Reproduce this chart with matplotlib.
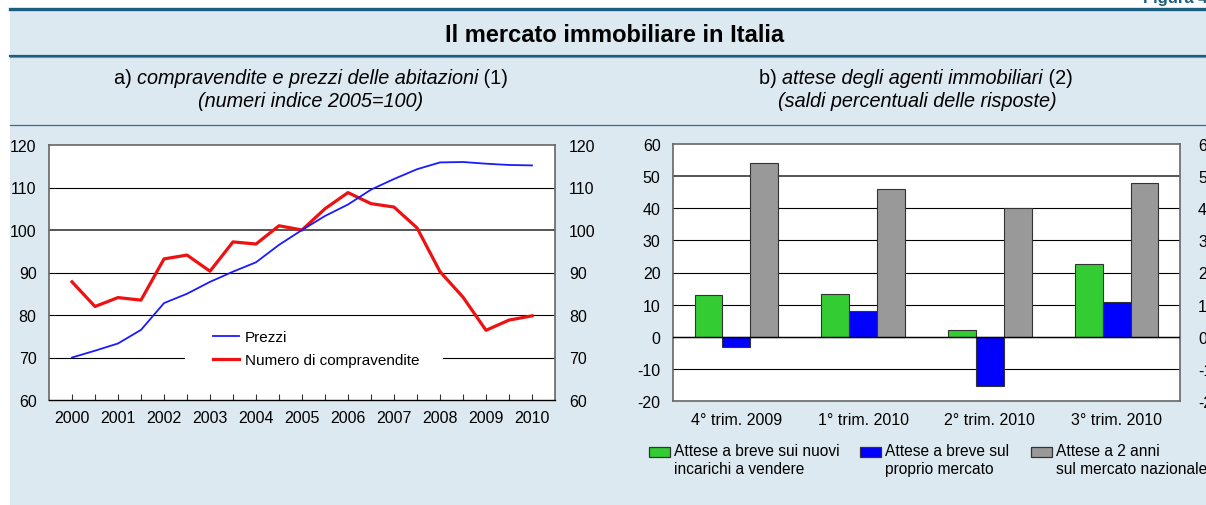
import matplotlib
matplotlib.use("Agg")
import matplotlib.pyplot as plt
from matplotlib.patches import Rectangle
from matplotlib.lines import Line2D
import numpy as np

plt.rcParams['font.family'] = ['Liberation Sans', 'DejaVu Sans']
plt.rcParams['axes.unicode_minus'] = False

# ---- data: panel a (semiannual index, 2005=100)
periods = np.arange(2000, 2010.01, 0.5)
prezzi = [70.0, 71.6, 73.3, 76.5, 82.8, 85.0, 87.8, 90.2, 92.4, 96.5, 100.0,
          103.3, 106.0, 109.5, 112.0, 114.3, 115.9, 116.0, 115.6, 115.3, 115.2]
compravendite = [87.8, 82.0, 84.1, 83.5, 93.2, 94.1, 90.3, 97.2, 96.7, 101.0, 100.0,
                 105.0, 108.8, 106.2, 105.4, 100.5, 90.2, 84.2, 76.4, 78.8, 79.8]
years = list(range(2000, 2011))

# ---- data: panel b (percentage balances)
quarters = ["4° trim. 2009", "1° trim. 2010", "2° trim. 2010", "3° trim. 2010"]
nuovi_incarichi = [13.0, 13.2, 2.2, 22.5]
proprio_mercato = [-3.3, 8.0, -15.2, 10.7]
mercato_nazionale = [54.0, 46.0, 40.0, 48.0]
series_labels = ["Attese a breve sui nuovi\nincarichi a vendere",
                 "Attese a breve sul\nproprio mercato",
                 "Attese a 2 anni\nsul mercato nazionale"]
series_colors = ["#33cc33", "#0000ff", "#999999"]

W, H = 1206, 506
BG = "#dde9f1"
TEAL = "#1b5e7f"
TICK_FS = 11.5

fig = plt.figure(figsize=(W / 100, H / 100), dpi=100)
fig.patch.set_facecolor("white")


def fx(px):
    return px / W


def fy(py):
    return 1 - py / H


# panel background and rules
fig.add_artist(Rectangle((fx(10), 0), 1 - fx(10), fy(10), transform=fig.transFigure,
                         facecolor=BG, edgecolor="none", zorder=0))
fig.add_artist(Line2D([fx(10), 1], [fy(10), fy(10)], color=TEAL, lw=2.4, zorder=1))
fig.add_artist(Line2D([fx(10), 1], [fy(56.5), fy(56.5)], color=TEAL, lw=1.6, zorder=1))
fig.add_artist(Line2D([fx(10), 1], [fy(58), fy(58)], color="#5d96b3", lw=0.8, zorder=1))
fig.add_artist(Line2D([fx(10), 1], [fy(126), fy(126)], color="#2c7193", lw=0.9, zorder=1))

fig.text(fx(1143), fy(2.5), "Figura 4.1", fontsize=12, fontweight="bold", color=TEAL,
         ha="left", va="baseline")
fig.text(fx(615), fy(36), "Il mercato immobiliare in Italia", fontsize=17,
         fontweight="bold", ha="center", va="center")

renderer = fig.canvas.get_renderer()


def mixed_line(xc, yc, pieces, size=14.3):
    # pieces: list of (text, style) drawn side by side, centered on xc
    arts = []
    for txt, style in pieces:
        t = fig.text(0, fy(yc), txt, fontsize=size, style=style, ha="left", va="center")
        arts.append(t)
    widths = [a.get_window_extent(renderer).width for a in arts]
    x = xc - sum(widths) / 2
    for a, w in zip(arts, widths):
        a.set_x(fx(x))
        x += w


mixed_line(311, 79, [("a) ", "normal"), ("compravendite e prezzi delle abitazioni", "italic"),
                     (" (1)", "normal")])
fig.text(fx(311), fy(102), "(numeri indice 2005=100)", fontsize=14.3, style="italic",
         ha="center", va="center")
mixed_line(916, 79, [("b) ", "normal"), ("attese degli agenti immobiliari", "italic"),
                     (" (2)", "normal")])
fig.text(fx(917), fy(102), "(saldi percentuali delle risposte)", fontsize=14.3, style="italic",
         ha="center", va="center")

# ---------------- panel a
ax1 = fig.add_axes([fx(49), fy(401), fx(555) - fx(49), fy(146) - fy(401)])
ax1.set_facecolor("white")
ax1.set_axisbelow(True)
ax1.set_xlim(1999.5, 2010.5)
ax1.set_ylim(60, 120)
ax1.set_yticks(range(60, 121, 10))
ax1.set_xticks(years)
ax1.set_xticks(periods, minor=True)
ax1.tick_params(axis="x", which="both", direction="in", length=4, width=0.8,
                color="#333333", labelsize=TICK_FS, pad=7)
ax1.tick_params(axis="y", length=0, labelsize=TICK_FS, pad=9)
for y in range(70, 120, 10):
    ax1.axhline(y, color="black" if y != 100 else "#555555",
                lw=0.8 if y != 100 else 1.4, zorder=0.5)
for s in ["left", "top", "right"]:
    ax1.spines[s].set_color("#666666")
    ax1.spines[s].set_linewidth(1.2)
ax1.spines["bottom"].set_color("black")
ax1.spines["bottom"].set_linewidth(1.0)

# white box behind the legend (hides the 70 gridline there)
ax1.add_patch(Rectangle(((185 - 49) / 506, (401 - 378) / 255), (443 - 185) / 506, 54 / 255,
                        transform=ax1.transAxes, facecolor="white", edgecolor="none", zorder=1))
l1, = ax1.plot(periods, prezzi, color="#1a1aff", lw=1.3, zorder=3)
l2, = ax1.plot(periods, compravendite, color="#ee1111", lw=2.3, zorder=2)
ax1.legend([l1, l2], ["Prezzi", "Numero di compravendite"], frameon=False, fontsize=11,
           loc="upper left", bbox_to_anchor=((207 - 49) / 506, (401 - 325) / 255),
           handlelength=1.7, handletextpad=0.4, labelspacing=0.6, borderaxespad=0)

ax1r = ax1.twinx()
ax1r.set_ylim(60, 120)
ax1r.set_yticks(range(60, 121, 10))
ax1r.tick_params(axis="y", length=0, labelsize=TICK_FS, pad=10)
for s in ax1r.spines.values():
    s.set_visible(False)

# ---------------- panel b
ax2 = fig.add_axes([fx(673), fy(402), fx(1180) - fx(673), fy(145) - fy(402)])
ax2.set_facecolor("white")
ax2.set_axisbelow(True)
ax2.set_xlim(-0.5, 3.5)
ax2.set_ylim(-20, 60)
ax2.set_yticks(range(-20, 61, 10))
for y in range(-10, 60, 10):
    ax2.axhline(y, color="black" if y != 50 else "#555555",
                lw=0.8 if y != 50 else 1.4, zorder=0.5)
x = np.arange(len(quarters))
bw = 0.22
for k, (vals, col) in enumerate(zip([nuovi_incarichi, proprio_mercato, mercato_nazionale],
                                    series_colors)):
    ax2.bar(x + (k - 1) * bw, vals, width=bw, color=col, edgecolor="#333333", lw=0.8, zorder=2)
ax2.axhline(0, color="black", lw=1.0, zorder=3)
ax2.set_xticks(x)
ax2.set_xticklabels(quarters)
ax2.tick_params(axis="x", length=0, labelsize=TICK_FS, pad=8)
ax2.tick_params(axis="y", length=0, labelsize=TICK_FS, pad=9)
for s in ax2.spines.values():
    s.set_color("#666666")
    s.set_linewidth(1.2)

ax2r = ax2.twinx()
ax2r.set_ylim(-20, 60)
ax2r.set_yticks(range(-20, 61, 10))
ax2r.tick_params(axis="y", length=0, labelsize=TICK_FS, pad=13)
for s in ax2r.spines.values():
    s.set_visible(False)

# legend of panel b: boxes aligned with the first text line
leg_x = [649, 860, 1031]
for lx, lab, col in zip(leg_x, series_labels, series_colors):
    fig.add_artist(Rectangle((fx(lx), fy(458)), fx(21), 10 / H, transform=fig.transFigure,
                             facecolor=col, edgecolor="#333333", lw=0.9, zorder=3))
    fig.text(fx(lx + 25), fy(444), lab, fontsize=11.2, ha="left", va="top",
             linespacing=1.25)

fig.savefig("out.png", dpi=100, facecolor=fig.get_facecolor())
